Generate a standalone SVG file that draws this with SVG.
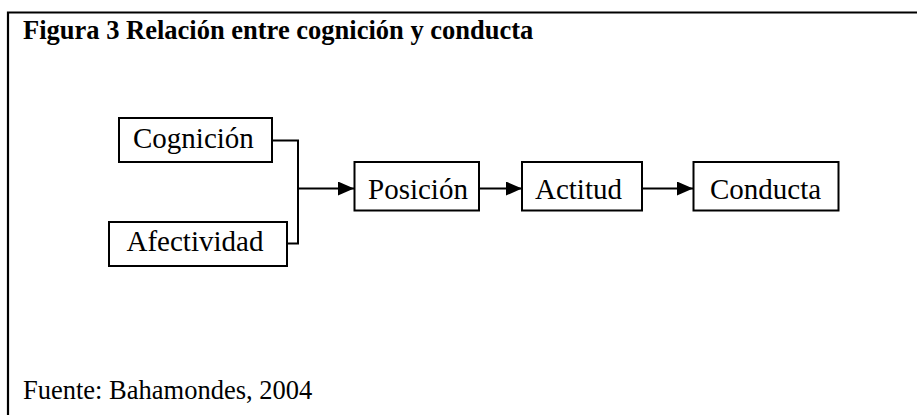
<svg xmlns="http://www.w3.org/2000/svg" width="917" height="415" viewBox="0 0 917 415">
<style>
.frame{fill:none;stroke:#000;stroke-width:2.2}
.box{fill:#fff;stroke:#000;stroke-width:2}
.lbl{font-family:"Liberation Serif","Times New Roman",serif;font-size:29px;fill:#000}
.title{font-family:"Liberation Serif","Times New Roman",serif;font-size:26.5px;font-weight:bold;fill:#000}
.foot{font-family:"Liberation Serif","Times New Roman",serif;font-size:26.5px;fill:#000}
.conn{fill:none;stroke:#000;stroke-width:2}
</style>
<defs>
<marker id="arr" viewBox="0 0 16 14" refX="16" refY="7" markerWidth="16" markerHeight="14" markerUnits="userSpaceOnUse" orient="auto">
<path d="M0,0 L16,7 L0,14 Z" fill="#000"/>
</marker>
</defs>
<rect width="917" height="415" fill="#fff"/>
<path class="frame" d="M8,416 V12.5 H918"/>
<text class="title" x="23" y="39">Figura 3 Relación entre cognición y conducta</text>
<g id="connectors">
<path class="conn" d="M272,140.5 H298 V243.5 H287"/>
<path class="conn" d="M298,188.5 H354" marker-end="url(#arr)"/>
<path class="conn" d="M479,188.5 H522" marker-end="url(#arr)"/>
<path class="conn" d="M642,188.5 H693" marker-end="url(#arr)"/>
</g>
<g id="cognicion">
<rect class="box" x="119" y="118" width="153" height="44"/>
<text class="lbl" x="133" y="148">Cognición</text>
</g>
<g id="afectividad">
<rect class="box" x="109" y="222" width="178" height="44"/>
<text class="lbl" x="126.5" y="251">Afectividad</text>
</g>
<g id="posicion">
<rect class="box" x="354.5" y="162" width="124.5" height="48.5"/>
<text class="lbl" x="368" y="198.5">Posición</text>
</g>
<g id="actitud">
<rect class="box" x="522" y="162" width="120" height="48.5"/>
<text class="lbl" x="535" y="198.5">Actitud</text>
</g>
<g id="conducta">
<rect class="box" x="693.5" y="162" width="145" height="48.5"/>
<text class="lbl" x="710" y="198.5">Conducta</text>
</g>
<text class="foot" x="23" y="399">Fuente: Bahamondes, 2004</text>
</svg>
